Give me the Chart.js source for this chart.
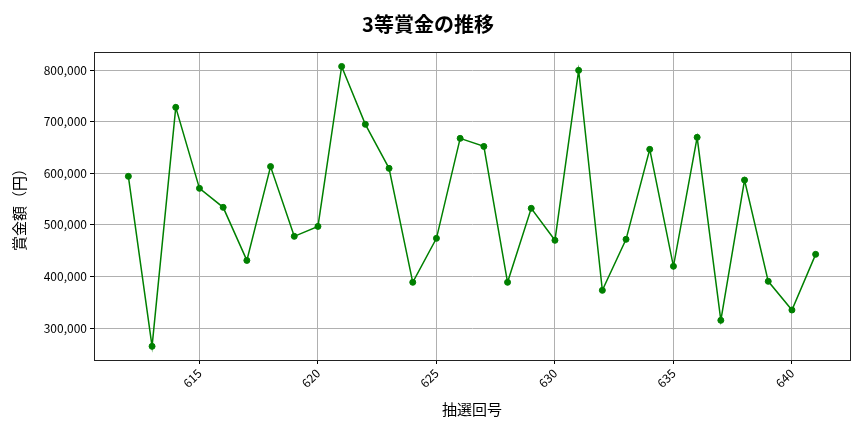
<!DOCTYPE html>
<html>
<head>
<meta charset="utf-8">
<script src="https://cdn.jsdelivr.net/npm/chart.js@4"></script>
<style>
  body { margin: 0; background: #fff; }
  #grafica { display: block; }
</style>
</head>
<body>
<canvas id="grafica" width="864" height="432"></canvas>
<script>
// 抽選回号
const kaigo = [612, 613, 614, 615, 616, 617, 618, 619, 620, 621,
               622, 623, 624, 625, 626, 627, 628, 629, 630, 631,
               632, 633, 634, 635, 636, 637, 638, 639, 640, 641];
// 3等賞金（円）
const shokin = [594000, 264500, 727700, 570700, 533900, 431000, 613000, 477700, 497000, 807000,
                694800, 609500, 388600, 473800, 667600, 652000, 388600, 532000, 470000, 799400,
                373000, 471900, 646300, 419600, 669600, 314900, 586800, 390500, 334900, 442800];
const xTicks = [615, 620, 625, 630, 635, 640];
const yTicks = [300000, 400000, 500000, 600000, 700000, 800000];

const fuente = '"Noto Sans CJK JP", "Noto Sans", sans-serif';

// marco completo alrededor del área (estilo matplotlib)
const marco = {
    id: 'marco',
    afterDraw(chart) {
        const { ctx, chartArea: a } = chart;
        ctx.save();
        ctx.strokeStyle = '#222';
        ctx.lineWidth = 1;
        ctx.strokeRect(a.left + 0.5, a.top + 0.5, a.right - a.left, a.bottom - a.top);
        ctx.restore();
    }
};

const ctx = document.getElementById('grafica').getContext('2d');
new Chart(ctx, {
    type: 'line',
    data: {
        datasets: [{
            data: kaigo.map((k, i) => ({ x: k, y: shokin[i] })),
            borderColor: '#008000',
            backgroundColor: '#008000',
            borderWidth: 1.5,
            pointRadius: 3,
            pointBorderWidth: 1,
            pointHoverRadius: 3,
            tension: 0
        }]
    },
    options: {
        responsive: false,
        animation: false,
        layout: { padding: { left: 6, right: 14, top: 0, bottom: 10 } },
        plugins: {
            legend: { display: false },
            tooltip: { enabled: false },
            title: {
                display: true,
                text: '3等賞金の推移',
                color: '#000',
                font: { family: fuente, size: 20, weight: 'bold' },
                padding: { top: 12, bottom: 16 }
            }
        },
        scales: {
            x: {
                type: 'linear',
                min: 610.55,
                max: 642.45,
                afterBuildTicks: s => { s.ticks = xTicks.map(v => ({ value: v })); },
                afterFit: s => { s.height = 62; },
                ticks: {
                    color: '#000',
                    font: { family: fuente, size: 12 },
                    minRotation: 45,
                    maxRotation: 45,
                    padding: 2
                },
                grid: { color: '#b0b0b0', tickColor: '#000', tickLength: 4 },
                border: { color: '#222' },
                title: {
                    display: true,
                    text: '抽選回号',
                    color: '#000',
                    font: { family: fuente, size: 15 },
                    padding: { top: 0, bottom: 4 }
                }
            },
            y: {
                min: 238000,
                max: 835000,
                afterBuildTicks: s => { s.ticks = yTicks.map(v => ({ value: v })); },
                afterFit: s => { s.width = 88; },
                ticks: {
                    color: '#000',
                    font: { family: fuente, size: 12 },
                    padding: 3,
                    callback: v => v.toLocaleString('en-US')
                },
                grid: { color: '#b0b0b0', tickColor: '#000', tickLength: 4 },
                border: { color: '#222' },
                title: {
                    display: true,
                    text: '賞金額（円）',
                    color: '#000',
                    font: { family: fuente, size: 15 },
                    padding: { top: 4, bottom: 6 }
                }
            }
        }
    },
    plugins: [marco]
});
</script>
</body>
</html>
